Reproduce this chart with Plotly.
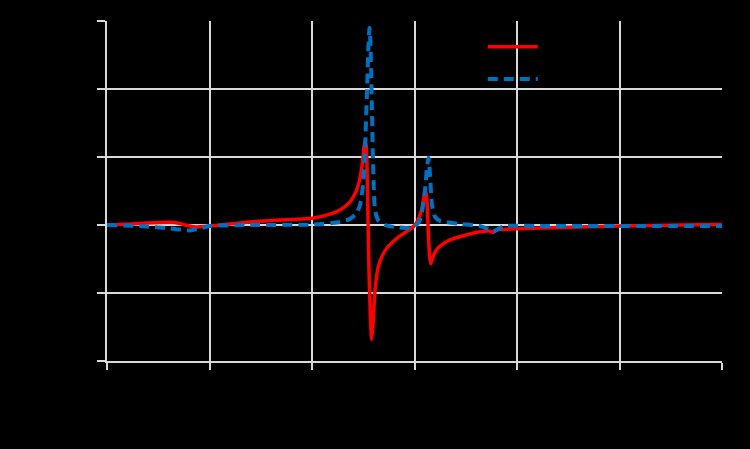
import plotly.graph_objects as go

# Red series (solid) - real part
x_real = [0, 2.24, 5.17, 6.63, 7.61, 8.59, 10.05, 13.95, 17.85, 20.0, 21.76, 22.73,
          23.71, 24.29, 24.68, 24.98, 25.12, 25.27, 25.41, 25.56, 25.71, 25.82, 25.95,
          26.15, 26.44, 26.83, 27.41, 28.1, 28.59, 29.27, 29.95, 30.34, 30.63, 30.88,
          31.02, 31.17, 31.32, 31.46, 31.58, 31.71, 32.0, 32.49, 33.46, 34.93, 36.39,
          37.37, 37.66, 38.05, 39.32, 42.24, 46.15, 50.05, 55.9, 60]
y_real = [0, 0.015, 0.037, 0.037, 0, -0.03, -0.015, 0.044, 0.08, 0.10, 0.16, 0.22,
          0.34, 0.49, 0.69, 0.99, 1.22, 1.18, 0.51, -0.66, -1.40, -1.68, -1.47,
          -0.96, -0.63, -0.46, -0.32, -0.22, -0.16, -0.09, -0.015, 0.07, 0.19, 0.37,
          0.51, 0.44, 0, -0.44, -0.57, -0.51, -0.40, -0.31, -0.22, -0.15, -0.10,
          -0.09, -0.11, -0.07, -0.06, -0.045, -0.03, -0.015, 0, 0.007]

# Blue series (dashed) - imaginary part
x_imag = [0, 3.22, 6.15, 8.1, 9.07, 10.05, 13.95, 20.0, 22.73, 23.71, 24.29, 24.68,
          24.98, 25.17, 25.37, 25.51, 25.61, 25.71, 25.85, 26.0, 26.15, 26.44, 27.12,
          28.1, 29.07, 29.95, 30.44, 30.73, 31.02, 31.22, 31.37, 31.51, 31.71, 32.0,
          32.49, 34.44, 36.39, 37.17, 37.66, 38.15, 38.83, 42.24, 50.05, 60]
y_imag = [0, -0.015, -0.05, -0.08, -0.05, -0.015, 0, 0.007, 0.044, 0.09, 0.16, 0.29,
          0.59, 1.10, 1.99, 2.65, 2.90, 2.65, 1.69, 0.66, 0.22, 0.074, 0,
          -0.03, -0.044, -0.03, 0.044, 0.19, 0.51, 0.84, 0.99, 0.74, 0.29, 0.12,
          0.06, 0.015, -0.015, -0.06, -0.10, -0.06, -0.015, -0.015, -0.015, -0.015]

x_ticks = [0, 10, 20, 30, 40, 50, 60]
y_ticks = [-2, -1, 0, 1, 2, 3]

GRID = "#D9D9D9"

fig = go.Figure()
fig.add_trace(go.Scatter(
    x=x_real, y=y_real, mode="lines", name="Re(χ)", legendgroup="re",
    line=dict(color="#FF0000", width=3.5, shape="spline", smoothing=0.6),
))
fig.add_trace(go.Scatter(
    x=x_imag, y=y_imag, mode="lines", name="Im(χ)", legendgroup="im",
    line=dict(color="#0070C0", width=4, dash="10px,6px", shape="spline", smoothing=0.6),
))

fig.update_layout(
    width=750, height=449,
    paper_bgcolor="black", plot_bgcolor="black",
    font=dict(family="Liberation Sans, Arial, sans-serif", size=14, color="black"),
    margin=dict(l=107, r=28, t=21, b=88),
    showlegend=True,
    legend=dict(x=0.611, y=0.97, xanchor="left", yanchor="top",
                bgcolor="rgba(0,0,0,0)", tracegroupgap=11,
                font=dict(size=14, color="black"), itemwidth=50),
)
fig.update_xaxes(
    range=[0, 60], tickvals=x_ticks, showgrid=True, gridcolor=GRID, gridwidth=2,
    showline=True, linecolor=GRID, linewidth=2, zeroline=False,
    ticks="outside", ticklen=7, tickwidth=2, tickcolor=GRID,
    title_text="Frequency (arb. units)",
)
fig.update_yaxes(
    range=[-2, 3], tickvals=y_ticks, showgrid=True, gridcolor=GRID, gridwidth=2,
    showline=True, linecolor=GRID, linewidth=2, zeroline=False,
    ticks="outside", ticklen=8, tickwidth=2, tickcolor=GRID,
    title_text="Susceptibility",
)

fig.write_html(
    "out.html",
    config={"displayModeBar": False},
    post_script="document.body.style.margin='0';document.body.style.background='black';",
)
